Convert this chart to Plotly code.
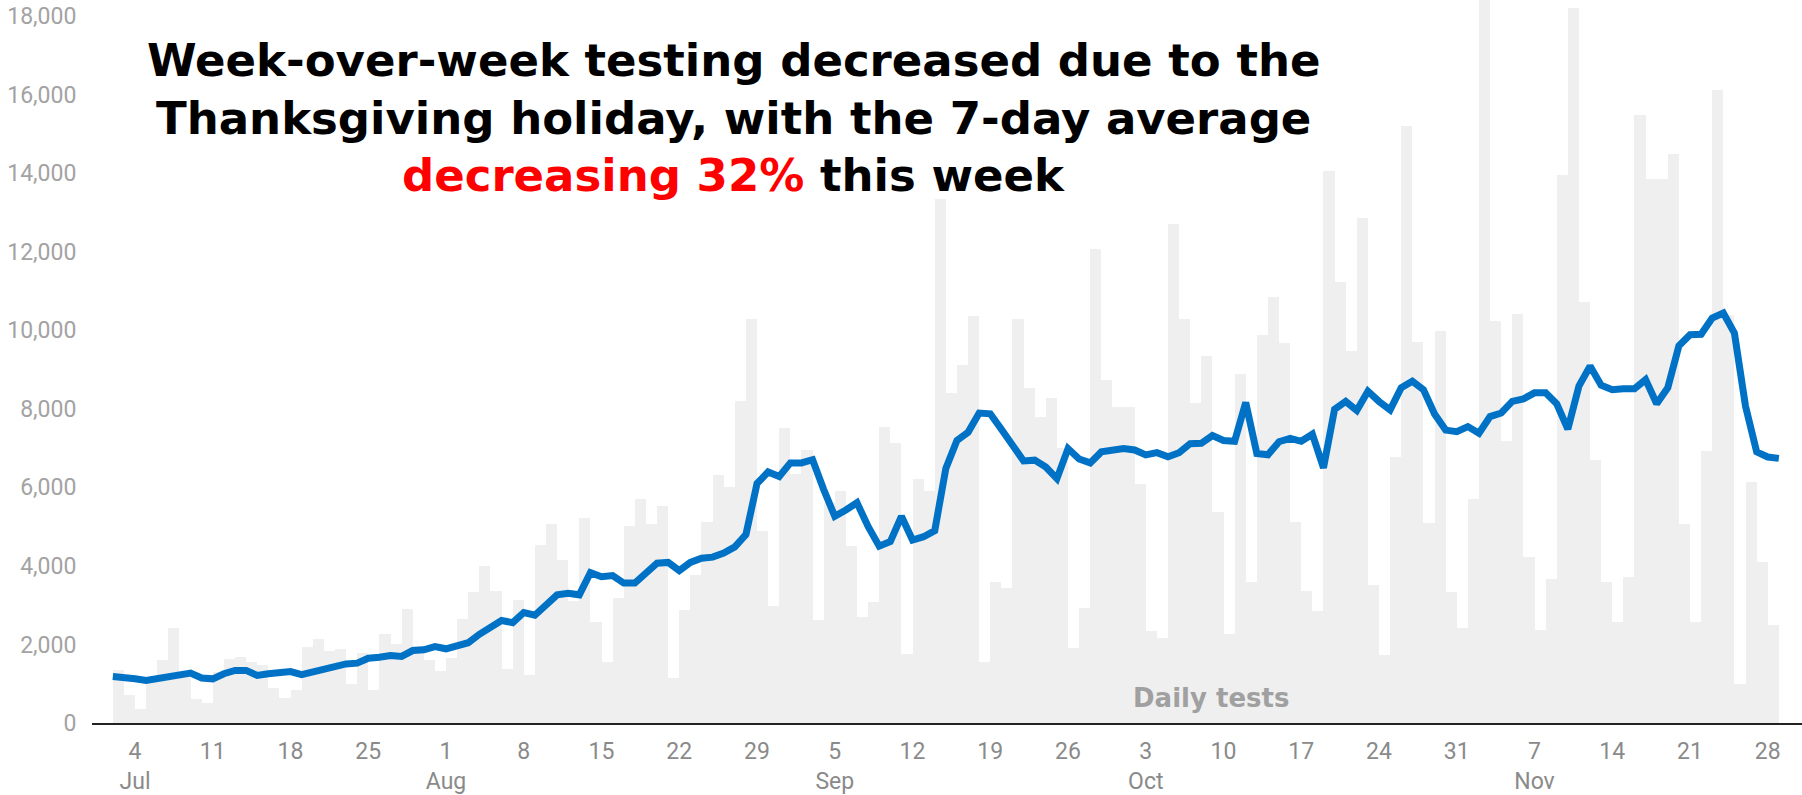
"""Daily tests with 7-day average, Jul - Nov 2020"""

import pandas as pd
import plotly.graph_objects as go

# daily tests, one bar per day from Jul 2 to Nov 28
BAR_START = '2020-07-02'
daily_tests = [
    1350, 720, 360, 1050, 1610, 2430, 1250, 600, 520, 1310,
    1640, 1680, 1560, 1480, 890, 635, 850, 1930, 2130, 1840,
    1880, 990, 1780, 850, 2260, 2010, 2900, 1950, 1600, 1320,
    1650, 2660, 3340, 3990, 3360, 1380, 3130, 1220, 4540, 5080,
    4140, 3100, 5215, 2580, 1565, 3180, 5010, 5700, 5080, 5530,
    1150, 2890, 3760, 5130, 6310, 6020, 8210, 10290, 4900, 2990,
    7520, 6340, 6950, 2630, 5600, 5900, 4500, 2690, 3080, 7530,
    7120, 1750, 6210, 5920, 13350, 8400, 9130, 10360, 1565, 3600,
    3450, 10290, 8530, 7790, 8290, 7000, 1910, 2930, 12080, 8740,
    8050, 8050, 6100, 2350, 2160, 12700, 10300, 8160, 9340, 5370,
    2260, 8890, 3600, 9890, 10850, 9670, 5110, 3360, 2850, 14050,
    11230, 9470, 12850, 3520, 1720, 6780, 15200, 9710, 5100, 9990,
    3340, 2430, 5710, 19000, 10250, 7190, 10420, 4230, 2380, 3670,
    13950, 18220, 10720, 6690, 3590, 2570, 3720, 15480, 13850, 13850,
    14490, 5060, 2580, 6930, 16130, 10400, 1000, 6140, 4110, 2500,
]

# 7-day average, one point per day from Jul 2 to Nov 29
AVG_START = '2020-07-02'
avg_7day = [
    1185, 1170, 1125, 1085, 1125, 1170, 1210, 1270, 1145, 1125,
    1255, 1340, 1340, 1210, 1255, 1295, 1310, 1230, 1310, 1380,
    1440, 1505, 1525, 1650, 1675, 1720, 1695, 1845, 1865, 1945,
    1890, 1990, 2045, 2260, 2420, 2610, 2555, 2815, 2745, 3025,
    3265, 3305, 3265, 3830, 3725, 3755, 3565, 3565, 3805, 4070,
    4090, 3880, 4090, 4195, 4225, 4330, 4485, 4800, 6100, 6395,
    6280, 6625, 6625, 6705, 5945, 5265, 5425, 5610, 5005, 4505,
    4620, 5265, 4660, 4745, 4900, 6485, 7195, 7405, 7895, 7875,
    7480, 7090, 6675, 6695, 6520, 6225, 6990, 6725, 6625, 6905,
    6935, 6990, 6955, 6830, 6885, 6780, 6885, 7115, 7125, 7320,
    7195, 7175, 8165, 6865, 6830, 7165, 7250, 7175, 7355, 6500,
    7990, 8190, 7960, 8450, 8190, 7975, 8540, 8705, 8490, 7870,
    7460, 7420, 7550, 7380, 7805, 7895, 8190, 8255, 8410, 8410,
    8130, 7485, 8580, 9090, 8605, 8490, 8515, 8515, 8745, 8130,
    8540, 9605, 9890, 9900, 10315, 10440, 9930, 8065, 6905, 6775,
    6740,
]

# x tick labels (weekly)
tick_dates = pd.date_range('2020-07-04', '2020-11-28', freq='7D')
tick_labels = [
    '4<br>Jul', '11', '18', '25', '1<br>Aug', '8', '15', '22', '29',
    '5<br>Sep', '12', '19', '26', '3<br>Oct', '10', '17', '24', '31',
    '7<br>Nov', '14', '21', '28',
]

TITLE_LINES = [
    'Week-over-week testing decreased due to the',
    'Thanksgiving holiday, with the 7-day average',
    '<span style="color:#ff0000">decreasing 32%</span> this week',
]

BAR_COLOR = '#efefef'
LINE_COLOR = '#0072c6'

bar_dates = pd.date_range(BAR_START, periods=len(daily_tests), freq='D')
avg_dates = pd.date_range(AVG_START, periods=len(avg_7day), freq='D')
day_ms = 24 * 60 * 60 * 1000

fig = go.Figure()

fig.add_trace(go.Bar(
    x=bar_dates,
    y=daily_tests,
    width=[day_ms] * len(daily_tests),
    offset=0,
    marker=dict(color=BAR_COLOR, line=dict(width=0)),
    name='Daily tests',
    showlegend=False,
))

fig.add_trace(go.Scatter(
    x=avg_dates,
    y=avg_7day,
    mode='lines',
    line=dict(color=LINE_COLOR, width=7),
    name='7-day average',
    showlegend=False,
))

# title, three centred lines
for i, text in enumerate(TITLE_LINES):
    fig.add_annotation(
        text=text,
        xref='paper', yref='paper',
        x=0.3749, y=(725 - (61 + 57.5 * i)) / 725,
        xanchor='center', yanchor='middle',
        showarrow=False,
        font=dict(family='DejaVu Sans', size=45, color='#000000', weight='bold'),
    )

fig.add_annotation(
    text='Daily tests',
    xref='paper', yref='paper',
    x=0.6544, y=0.0345,
    xanchor='center', yanchor='middle',
    showarrow=False,
    font=dict(family='DejaVu Sans', size=26, color='#a0a0a0', weight='bold'),
)

fig.update_layout(
    width=1802,
    height=795,
    margin=dict(l=92, r=0, t=0, b=70),
    plot_bgcolor='white',
    paper_bgcolor='white',
    bargap=0,
    font=dict(family='Roboto', size=23, color='#9a9a9a'),
    xaxis=dict(
        type='date',
        range=['2020-06-30 03:00', '2020-12-01 02:00'],
        tickvals=tick_dates,
        ticktext=tick_labels,
        showgrid=False,
        showline=True,
        linecolor='#222222',
        linewidth=2,
        ticks='outside',
        ticklen=6,
        tickcolor='rgba(0,0,0,0)',
        tickfont=dict(family='Roboto', size=23, color='#8a8a8a'),
        zeroline=False,
    ),
    yaxis=dict(
        range=[0, 18415],
        tickvals=list(range(0, 18001, 2000)),
        tickformat=',d',
        showgrid=False,
        zeroline=False,
        showline=False,
        ticks='outside',
        ticklen=10,
        tickcolor='rgba(0,0,0,0)',
        tickfont=dict(family='Roboto', size=23, color='#a3a3a3'),
    ),
)

# the page's default body margin would shift the figure by 8px
fig.write_html(
    'out.html',
    config={'displayModeBar': False},
    post_script="document.body.style.margin = '0';",
)
